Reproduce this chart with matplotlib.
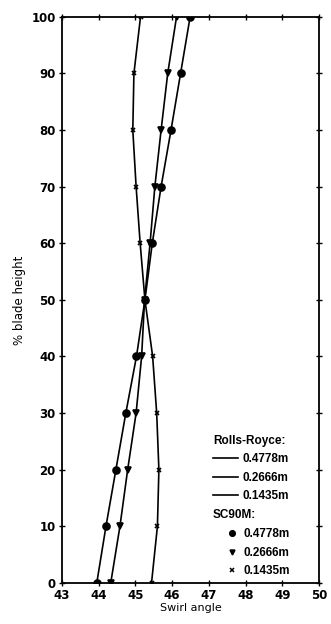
import numpy as np
import matplotlib.pyplot as plt
from matplotlib.lines import Line2D

plt.rcParams['font.family'] = ['DejaVu Sans']
plt.rcParams['font.weight'] = 'bold'
plt.rcParams['font.size'] = 8.5

# % blade height
height = [0, 10, 20, 30, 40, 50, 60, 70, 80, 90, 100]

# swirl angle for each radius
swirl_4778 = [43.95, 44.2, 44.47, 44.74, 45.03, 45.26, 45.46, 45.7, 45.97, 46.23, 46.49]
swirl_2666 = [44.33, 44.58, 44.79, 45.02, 45.17, 45.25, 45.4, 45.53, 45.7, 45.88, 46.12]
swirl_1435 = [45.44, 45.6, 45.64, 45.58, 45.47, 45.26, 45.13, 45.02, 44.93, 44.96, 45.14]

radii = ['0.4778m', '0.2666m', '0.1435m']
markers = ['o', 'v', 'x']
msizes = [5, 4.5, 3.5]

fig = plt.figure(figsize=(3.31, 6.24), dpi=100)
ax = fig.add_axes([0.187, 0.066, 0.777, 0.907])

# Rolls-Royce lines
for s in [swirl_4778, swirl_2666, swirl_1435]:
    ax.plot(s, height, color='k', lw=1.2)

# SC90M points
for s, m, ms in zip([swirl_4778, swirl_2666, swirl_1435], markers, msizes):
    ax.plot(s, height, ls='none', marker=m, ms=ms, color='k', mew=1.2)

ax.set_xlim(43, 50)
ax.set_ylim(0, 100)
ax.set_xticks(range(43, 51))
ax.set_yticks(range(0, 101, 10))
ax.tick_params(direction='inout', length=5, width=1, top=True, right=True, pad=2)
for sp in ax.spines.values():
    sp.set_linewidth(1.3)

ax.set_xlabel('Swirl angle', labelpad=1, fontsize=8)
ax.set_ylabel('% blade height', labelpad=4)

# legend in two groups with headers
lfont = {'family': 'Liberation Sans', 'weight': 'bold', 'size': 8.5}
ax.text(0.588, 0.251, 'Rolls-Royce:', transform=ax.transAxes, ha='left', va='center', **lfont)
h1 = [Line2D([], [], color='k', lw=1.2) for _ in radii]
leg1 = ax.legend(h1, radii, loc='upper left', bbox_to_anchor=(0.588, 0.229),
                 frameon=False, handlelength=2.1, handletextpad=0.4,
                 labelspacing=0.55, borderpad=0, borderaxespad=0, prop=lfont)
ax.add_artist(leg1)

ax.text(0.588, 0.120, 'SC90M:', transform=ax.transAxes, ha='left', va='center', **lfont)
h2 = [Line2D([], [], ls='none', marker=m, ms=ms - 1, color='k', mew=1.1)
      for m, ms in zip(markers, msizes)]
ax.legend(h2, radii, loc='upper left', bbox_to_anchor=(0.634, 0.096),
          frameon=False, handlelength=1.2, handletextpad=0.4,
          labelspacing=0.55, borderpad=0, borderaxespad=0, prop=lfont)

fig.savefig('out.png', dpi=100)
